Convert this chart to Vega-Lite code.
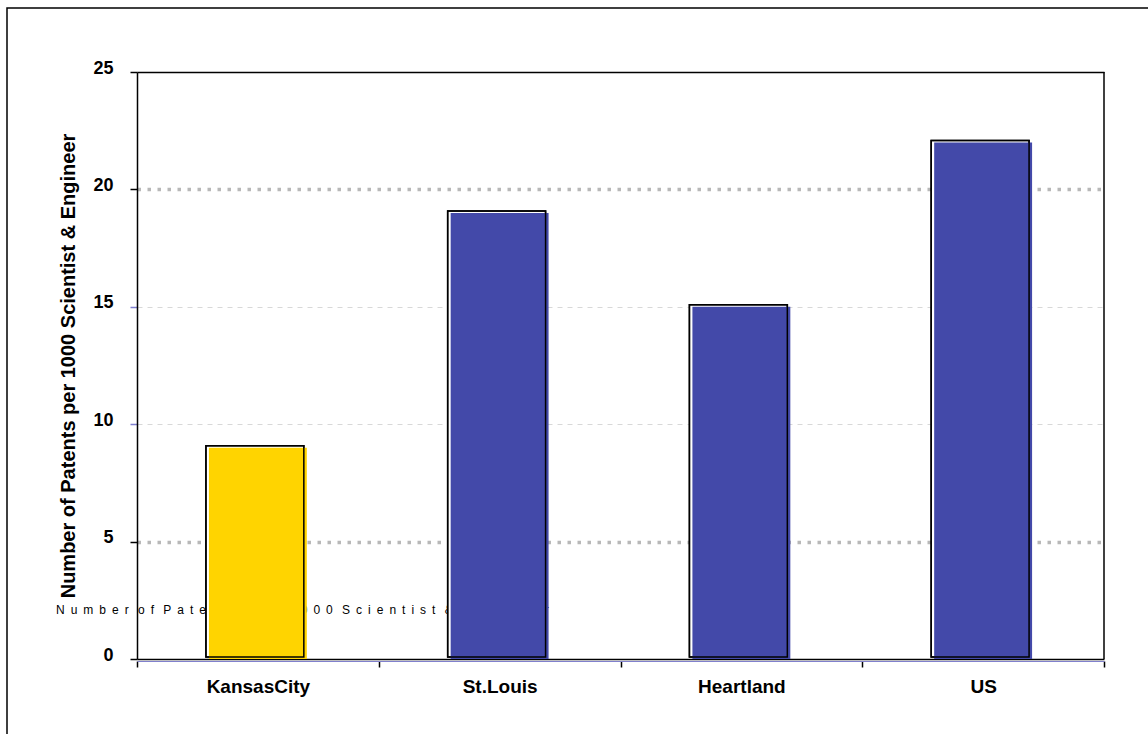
{
  "$schema": "https://vega.github.io/schema/vega-lite/v6.json",
  "width": 1144,
  "height": 729,
  "autosize": "none",
  "padding": {"left": 7, "top": 8, "right": -3, "bottom": -3},
  "background": "white",
  "config": {
    "view": {"stroke": "black", "strokeWidth": 1.5},
    "font": "Liberation Sans"
  },
  "data": {
    "values": [
      {"region": "KansasCity", "patents": 9, "group": "KC"},
      {"region": "St.Louis", "patents": 19, "group": "other"},
      {"region": "Heartland", "patents": 15, "group": "other"},
      {"region": "US", "patents": 22, "group": "other"}
    ]
  },
  "encoding": {
    "x": {
      "field": "region",
      "type": "nominal",
      "sort": null,
      "scale": {"range": [130, 1097], "paddingInner": 0, "paddingOuter": 0},
      "axis": {
        "title": null,
        "orient": "bottom",
        "offset": -76,
        "domainColor": "#8080cc",
        "domainWidth": 1,
        "tickBand": "extent",
        "tickColor": "black",
        "tickSize": 6,
        "tickWidth": 1.5,
        "labelAngle": 0,
        "labelFont": "Liberation Sans",
        "labelFontSize": 19,
        "labelFontWeight": "bold",
        "labelColor": "black",
        "labelPadding": 10,
        "grid": false
      }
    },
    "y": {
      "field": "patents",
      "type": "quantitative",
      "scale": {"domain": [0, 25], "range": [651, 64], "nice": false, "zero": true},
      "axis": {
        "title": "Number of Patents per 1000 Scientist & Engineer",
        "values": [0, 5, 10, 15, 20, 25],
        "offset": -130,
        "domainColor": "black",
        "domainWidth": 1.5,
        "tickSize": 7,
        "tickWidth": 1.5,
        "tickColor": {"condition": {"test": "datum.value == 10 || datum.value == 15", "value": "#7f7fcf"}, "value": "black"},
        "labelFont": "Liberation Sans",
        "labelFontSize": 18,
        "labelFontWeight": "bold",
        "labelColor": "black",
        "labelPadding": 17,
        "labelOffset": -4,
        "titleFont": "Liberation Sans",
        "titleFontSize": 20,
        "titleFontWeight": "bold",
        "titleColor": "black",
        "titlePadding": 14,
        "grid": true,
        "gridColor": {"condition": [
          {"test": "datum.value == 0 || datum.value == 25", "value": "black"},
          {"test": "datum.value == 10 || datum.value == 15", "value": "#d8d8d8"}
        ], "value": "#b8b8b8"},
        "gridWidth": {"condition": [
          {"test": "datum.value == 0 || datum.value == 25", "value": 1.5},
          {"test": "datum.value == 10 || datum.value == 15", "value": 1}
        ], "value": 3.5},
        "gridDash": {"condition": [
          {"test": "datum.value == 0 || datum.value == 25", "value": []},
          {"test": "datum.value == 10 || datum.value == 15", "value": [5, 5]}
        ], "value": [3.5, 6.5]}
      }
    }
  },
  "layer": [
    {
      "data": {"values": [{"anchor": "KansasCity", "level": 2.1, "label": "N\u2002u\u2002m\u2002b\u2002e\u2002r\u2002 o\u2002f\u2002 P\u2002a\u2002t\u2002e\u2002n\u2002t\u2002s\u2002 p\u2002e\u2002r\u2002 1\u20020\u20020\u20020\u2002 S\u2002c\u2002i\u2002e\u2002n\u2002t\u2002i\u2002s\u2002t\u2002 &\u2002E\u2002n\u2002g\u2002i\u2002n\u2002e\u2002e\u2002r"}]},
      "mark": {"type": "text", "align": "left", "baseline": "middle", "dx": -81, "fontSize": 12, "font": "Liberation Sans", "color": "black"},
      "encoding": {
        "x": {"field": "anchor", "type": "nominal", "bandPosition": 0},
        "y": {"field": "level", "type": "quantitative"},
        "text": {"field": "label", "type": "nominal"}
      }
    },
    {
      "mark": {"type": "bar", "fill": "white", "stroke": "black", "strokeWidth": 1.5, "xOffset": -3, "yOffset": -2, "width": {"band": 0.405}}
    },
    {
      "mark": {"type": "bar", "width": {"band": 0.405}},
      "encoding": {
        "color": {"field": "group", "type": "nominal", "scale": {"domain": ["KC", "other"], "range": ["#FFD400", "#4349A9"]}, "legend": null}
      }
    },
    {
      "mark": {"type": "bar", "fill": "white", "fillOpacity": 0, "stroke": "black", "strokeWidth": 1.5, "xOffset": -3, "yOffset": -2, "width": {"band": 0.405}}
    },
    {
      "data": {"values": [{"edge": "US", "lo": 0, "hi": 25}]},
      "mark": {"type": "rule", "color": "black", "strokeWidth": 1.5},
      "encoding": {
        "x": {"field": "edge", "type": "nominal", "bandPosition": 1},
        "y": {"field": "lo", "type": "quantitative"},
        "y2": {"field": "hi"}
      }
    }
  ]
}
